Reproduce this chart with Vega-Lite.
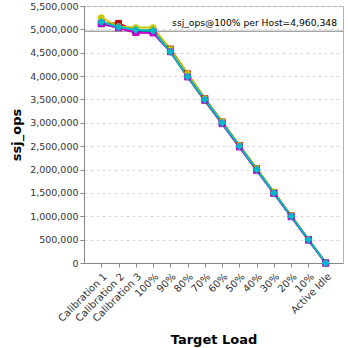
{
  "$schema": "https://vega.github.io/schema/vega-lite/v6.json",
  "width": 259,
  "height": 257,
  "autosize": "none",
  "padding": {"left": 84, "top": 6, "right": 5, "bottom": 85},
  "background": "white",
  "config": {
    "font": "DejaVu Sans",
    "view": {"stroke": "#b0b0b0", "strokeWidth": 1},
    "axis": {"labelFont": "DejaVu Sans", "titleFont": "DejaVu Sans", "labelFontSize": 10, "labelColor": "#333", "domainColor": "#888", "tickColor": "#888", "titleFontSize": 13, "titleFontWeight": "bold", "titleColor": "#000"}
  },
  "datasets": {
    "hosts": [
      {"host": "A", "load": "Calibration 1", "ops": 5120000}, {"host": "A", "load": "Calibration 2", "ops": 5130000}, {"host": "A", "load": "Calibration 3", "ops": 4960000}, {"host": "A", "load": "100%", "ops": 4960000}, {"host": "A", "load": "90%", "ops": 4580000}, {"host": "A", "load": "80%", "ops": 4050000}, {"host": "A", "load": "70%", "ops": 3520000}, {"host": "A", "load": "60%", "ops": 3020000}, {"host": "A", "load": "50%", "ops": 2520000}, {"host": "A", "load": "40%", "ops": 2020000}, {"host": "A", "load": "30%", "ops": 1510000}, {"host": "A", "load": "20%", "ops": 1010000}, {"host": "A", "load": "10%", "ops": 505000}, {"host": "A", "load": "Active Idle", "ops": 0},
      {"host": "B", "load": "Calibration 1", "ops": 5120000}, {"host": "B", "load": "Calibration 2", "ops": 5040000}, {"host": "B", "load": "Calibration 3", "ops": 4970000}, {"host": "B", "load": "100%", "ops": 4950000}, {"host": "B", "load": "90%", "ops": 4540000}, {"host": "B", "load": "80%", "ops": 4010000}, {"host": "B", "load": "70%", "ops": 3490000}, {"host": "B", "load": "60%", "ops": 2990000}, {"host": "B", "load": "50%", "ops": 2490000}, {"host": "B", "load": "40%", "ops": 1990000}, {"host": "B", "load": "30%", "ops": 1490000}, {"host": "B", "load": "20%", "ops": 990000}, {"host": "B", "load": "10%", "ops": 490000}, {"host": "B", "load": "Active Idle", "ops": 0},
      {"host": "C", "load": "Calibration 1", "ops": 5150000}, {"host": "C", "load": "Calibration 2", "ops": 5050000}, {"host": "C", "load": "Calibration 3", "ops": 4980000}, {"host": "C", "load": "100%", "ops": 4970000}, {"host": "C", "load": "90%", "ops": 4530000}, {"host": "C", "load": "80%", "ops": 3980000}, {"host": "C", "load": "70%", "ops": 3470000}, {"host": "C", "load": "60%", "ops": 2990000}, {"host": "C", "load": "50%", "ops": 2490000}, {"host": "C", "load": "40%", "ops": 2000000}, {"host": "C", "load": "30%", "ops": 1500000}, {"host": "C", "load": "20%", "ops": 1000000}, {"host": "C", "load": "10%", "ops": 500000}, {"host": "C", "load": "Active Idle", "ops": 0},
      {"host": "D", "load": "Calibration 1", "ops": 5250000}, {"host": "D", "load": "Calibration 2", "ops": 5060000}, {"host": "D", "load": "Calibration 3", "ops": 5040000}, {"host": "D", "load": "100%", "ops": 5040000}, {"host": "D", "load": "90%", "ops": 4570000}, {"host": "D", "load": "80%", "ops": 4050000}, {"host": "D", "load": "70%", "ops": 3520000}, {"host": "D", "load": "60%", "ops": 3020000}, {"host": "D", "load": "50%", "ops": 2520000}, {"host": "D", "load": "40%", "ops": 2020000}, {"host": "D", "load": "30%", "ops": 1520000}, {"host": "D", "load": "20%", "ops": 1010000}, {"host": "D", "load": "10%", "ops": 505000}, {"host": "D", "load": "Active Idle", "ops": 0},
      {"host": "E", "load": "Calibration 1", "ops": 5130000}, {"host": "E", "load": "Calibration 2", "ops": 5030000}, {"host": "E", "load": "Calibration 3", "ops": 4930000}, {"host": "E", "load": "100%", "ops": 4920000}, {"host": "E", "load": "90%", "ops": 4520000}, {"host": "E", "load": "80%", "ops": 3980000}, {"host": "E", "load": "70%", "ops": 3480000}, {"host": "E", "load": "60%", "ops": 2980000}, {"host": "E", "load": "50%", "ops": 2480000}, {"host": "E", "load": "40%", "ops": 1980000}, {"host": "E", "load": "30%", "ops": 1490000}, {"host": "E", "load": "20%", "ops": 990000}, {"host": "E", "load": "10%", "ops": 490000}, {"host": "E", "load": "Active Idle", "ops": 0},
      {"host": "F", "load": "Calibration 1", "ops": 5160000}, {"host": "F", "load": "Calibration 2", "ops": 5050000}, {"host": "F", "load": "Calibration 3", "ops": 4990000}, {"host": "F", "load": "100%", "ops": 4970000}, {"host": "F", "load": "90%", "ops": 4520000}, {"host": "F", "load": "80%", "ops": 3990000}, {"host": "F", "load": "70%", "ops": 3500000}, {"host": "F", "load": "60%", "ops": 3000000}, {"host": "F", "load": "50%", "ops": 2500000}, {"host": "F", "load": "40%", "ops": 2000000}, {"host": "F", "load": "30%", "ops": 1500000}, {"host": "F", "load": "20%", "ops": 1000000}, {"host": "F", "load": "10%", "ops": 500000}, {"host": "F", "load": "Active Idle", "ops": 0}
    ],
    "ref": [{"ops": 4960348, "label": "ssj_ops@100% per Host=4,960,348"}]
  },
  "layer": [
    {
      "data": {"name": "ref"},
      "mark": {"type": "rule", "color": "#808080", "strokeWidth": 1},
      "encoding": {"y": {"field": "ops", "type": "quantitative", "scale": {"domain": [0, 5500000]},
              "axis": {"title": "ssj_ops", "format": ",d", "labelFontSize": 9.5, "values": [0,500000,1000000,1500000,2000000,2500000,3000000,3500000,4000000,4500000,5000000,5500000], "tickSize": 4, "grid": true, "gridColor": "#d8d8d8", "gridDash": [3, 3], "titlePadding": 6}}}
    },
    {
      "data": {"name": "ref"},
      "mark": {"type": "text", "align": "right", "baseline": "bottom", "dy": -3, "x": {"expr": "width - 6"}, "fontSize": 9.2, "font": "DejaVu Sans", "color": "#000"},
      "encoding": {"y": {"field": "ops", "type": "quantitative",
              "axis": {"title": "ssj_ops", "format": ",d", "labelFontSize": 9.5, "values": [0,500000,1000000,1500000,2000000,2500000,3000000,3500000,4000000,4500000,5000000,5500000], "tickSize": 4, "grid": true, "gridColor": "#d8d8d8", "gridDash": [3, 3], "titlePadding": 6}}, "text": {"field": "label"}}
    },
    {
      "data": {"name": "hosts"},
      "mark": {"type": "line", "strokeWidth": 2},
      "encoding": {
        "x": {"field": "load", "type": "nominal", "sort": null, "scale": {"type": "point", "padding": 1.2},
              "axis": {"title": "Target Load", "labelAngle": -45, "labelAlign": "right", "labelBaseline": "top", "labelPadding": 4, "tickSize": 4, "grid": false, "titlePadding": 10}},
        "y": {"field": "ops", "type": "quantitative",
              "axis": {"title": "ssj_ops", "format": ",d", "labelFontSize": 9.5, "values": [0,500000,1000000,1500000,2000000,2500000,3000000,3500000,4000000,4500000,5000000,5500000], "tickSize": 4, "grid": true, "gridColor": "#d8d8d8", "gridDash": [3, 3], "titlePadding": 6}},
        "color": {"field": "host", "type": "nominal", "legend": null,
                  "scale": {"domain": ["A","B","C","D","E","F"], "range": ["#cc0000", "#2222dd", "#00bb00", "#c8c800", "#cc00cc", "#00b8c8"]}}
      }
    },
    {
      "data": {"name": "hosts"},
      "transform": [{"filter": "datum.host != 'F'"}],
      "mark": {"type": "point", "filled": true, "opacity": 1, "size": 45},
      "encoding": {
        "x": {"field": "load", "type": "nominal", "sort": null,
              "axis": {"title": "Target Load", "labelAngle": -45, "labelAlign": "right", "labelBaseline": "top", "labelPadding": 4, "tickSize": 4, "grid": false, "titlePadding": 10}},
        "y": {"field": "ops", "type": "quantitative",
              "axis": {"title": "ssj_ops", "format": ",d", "labelFontSize": 9.5, "values": [0,500000,1000000,1500000,2000000,2500000,3000000,3500000,4000000,4500000,5000000,5500000], "tickSize": 4, "grid": true, "gridColor": "#d8d8d8", "gridDash": [3, 3], "titlePadding": 6}},
        "color": {"field": "host", "type": "nominal", "legend": null},
        "shape": {"field": "host", "type": "nominal", "legend": null,
                  "scale": {"domain": ["A","B","C","D","E","F"], "range": ["square", "square", "triangle-up", "circle", "square", "diamond"]}}
      }
    },
    {
      "data": {"name": "hosts"},
      "transform": [{"filter": "datum.host == 'F'"}],
      "mark": {"type": "point", "filled": true, "opacity": 1, "size": 70},
      "encoding": {
        "x": {"field": "load", "type": "nominal", "sort": null,
              "axis": {"title": "Target Load", "labelAngle": -45, "labelAlign": "right", "labelBaseline": "top", "labelPadding": 4, "tickSize": 4, "grid": false, "titlePadding": 10}},
        "y": {"field": "ops", "type": "quantitative",
              "axis": {"title": "ssj_ops", "format": ",d", "labelFontSize": 9.5, "values": [0,500000,1000000,1500000,2000000,2500000,3000000,3500000,4000000,4500000,5000000,5500000], "tickSize": 4, "grid": true, "gridColor": "#d8d8d8", "gridDash": [3, 3], "titlePadding": 6}},
        "color": {"field": "host", "type": "nominal", "legend": null},
        "shape": {"field": "host", "type": "nominal", "legend": null}
      }
    }
  ]
}
